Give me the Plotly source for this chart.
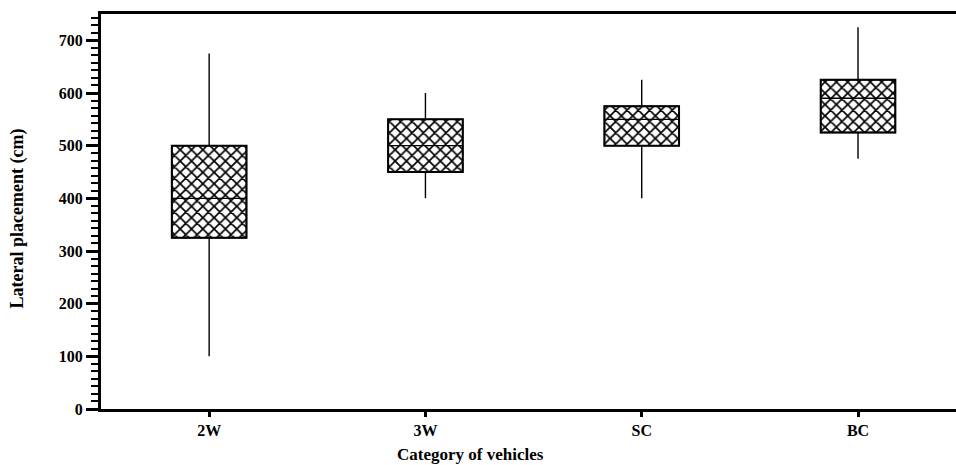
import plotly.graph_objects as go

# ---- data ----
categories = ["2W", "3W", "SC", "BC"]
lower_whisker = [100, 400, 400, 475]
q1 = [325, 450, 500, 525]
median = [400, 500, 550, 590]
q3 = [500, 550, 575, 625]
upper_whisker = [675, 600, 625, 725]

y_tick_vals = [0, 100, 200, 300, 400, 500, 600, 700]
y_tick_text = ["0", "100", "200", "300", "400", "500", "600", "700"]

x_pos = list(range(len(categories)))
FONT = "Liberation Serif, Times New Roman, serif"
BOX_W = 0.345

fig = go.Figure()

# hatched box bodies
fig.add_trace(go.Bar(
    x=x_pos,
    y=[b - a for a, b in zip(q1, q3)],
    base=q1,
    width=BOX_W,
    marker=dict(
        color="white",
        line=dict(color="black", width=2),
        pattern=dict(shape="x", size=8, solidity=0.38,
                     fgcolor="black", fgopacity=1, bgcolor="white",
                     fillmode="overlay"),
    ),
    hoverinfo="skip",
    showlegend=False,
))

# whiskers + median lines
fig.add_trace(go.Box(
    x=x_pos,
    q1=q1, median=median, q3=q3,
    lowerfence=lower_whisker, upperfence=upper_whisker,
    width=BOX_W,
    whiskerwidth=0,
    boxpoints=False,
    fillcolor="rgba(0,0,0,0)",
    line=dict(color="black", width=1.4),
    hoverinfo="skip",
    showlegend=False,
))

fig.update_layout(
    width=956, height=465,
    margin=dict(l=101, r=0, t=14, b=56),
    paper_bgcolor="white", plot_bgcolor="white",
    barmode="overlay",
    font=dict(family=FONT, color="black"),
    xaxis=dict(
        range=[-0.5, 3.453],
        tickvals=x_pos, ticktext=categories,
        tickfont=dict(family=FONT, size=16, weight="bold", color="black"),
        ticks="outside", ticklen=5, tickwidth=2.5, tickcolor="black",
        showline=True, linewidth=3, linecolor="black", mirror=True,
        showgrid=False, zeroline=False,
    ),
    yaxis=dict(
        range=[0, 750],
        tickvals=y_tick_vals, ticktext=y_tick_text,
        tickfont=dict(family=FONT, size=16, weight="bold", color="black"),
        ticks="outside", ticklen=12, tickwidth=2.5, tickcolor="black",
        minor=dict(ticks="outside", ticklen=7, tickwidth=2, tickcolor="black",
                   dtick=100 / 7, tick0=0, showgrid=False),
        showline=True, linewidth=3, linecolor="black",
        showgrid=False, zeroline=False,
    ),
    annotations=[
        dict(text="Lateral placement (cm)", textangle=-90,
             xref="paper", yref="paper", x=-0.098, y=0.483,
             xanchor="center", yanchor="middle", showarrow=False,
             font=dict(family=FONT, size=18, weight="bold", color="black")),
        dict(text="Category of vehicles",
             xref="paper", yref="paper", x=0.4316, y=-0.116,
             xanchor="center", yanchor="middle", showarrow=False,
             font=dict(family=FONT, size=17, weight="bold", color="black")),
    ],
)

fig.write_html(
    "out.html",
    config={"displayModeBar": False},
    post_script="document.body.style.margin='0';document.body.style.padding='0';",
)
